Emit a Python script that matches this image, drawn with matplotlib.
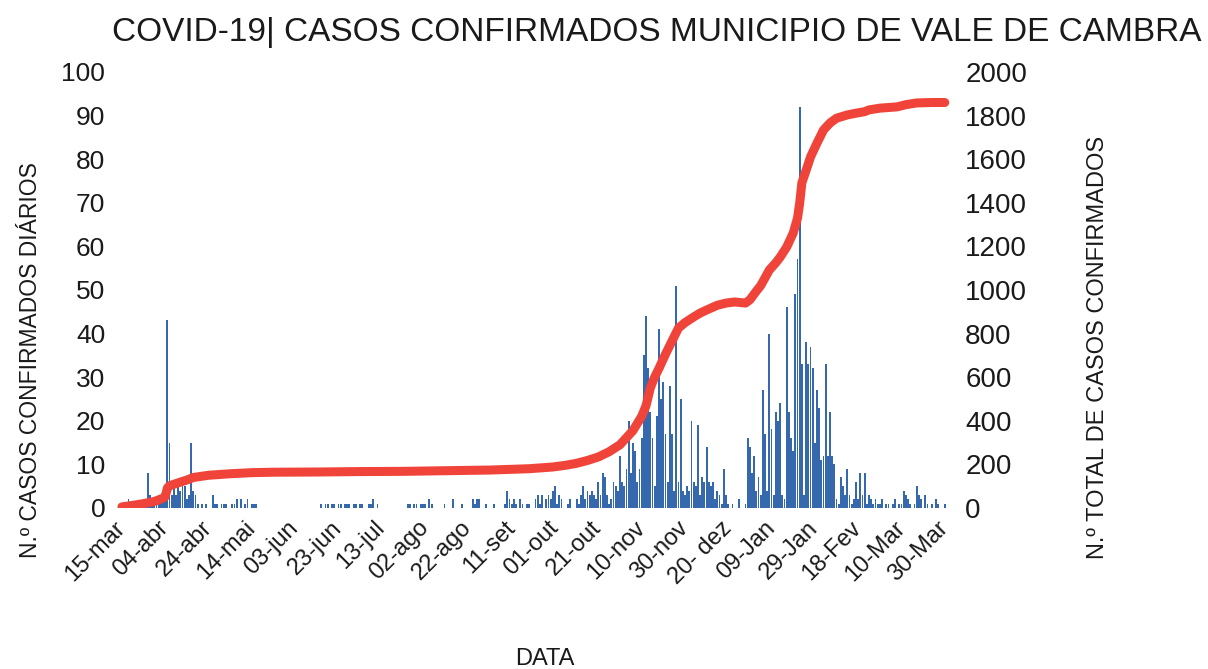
import numpy as np
import matplotlib
matplotlib.use('Agg')
import matplotlib.pyplot as plt

plt.rcParams['font.family'] = ['Liberation Sans', 'DejaVu Sans']

# casos diarios, 15-mar-2020 a 30-mar-2021 (um valor por dia)
casos_diarios = [
    1, 0, 1, 2, 0, 1, 1, 0, 1, 1,
    2, 1, 8, 3, 1, 1, 2, 1, 2, 3,
    4, 43, 15, 3, 5, 3, 5, 4, 6, 5,
    2, 3, 15, 4, 3, 1, 0, 1, 0, 1,
    0, 0, 3, 1, 1, 0, 1, 1, 1, 0,
    0, 1, 1, 2, 0, 2, 0, 1, 2, 0,
    1, 1, 1, 0, 0, 0, 0, 0, 0, 0,
    0, 0, 0, 0, 0, 0, 0, 0, 0, 0,
    0, 0, 0, 0, 0, 0, 0, 0, 0, 0,
    0, 0, 1, 0, 1, 1, 0, 1, 1, 0,
    1, 1, 0, 1, 1, 1, 0, 1, 1, 0,
    1, 1, 0, 0, 1, 1, 2, 0, 1, 0,
    0, 0, 0, 0, 0, 0, 0, 0, 0, 0,
    0, 0, 1, 1, 0, 1, 1, 0, 1, 1,
    1, 0, 2, 1, 0, 0, 0, 0, 0, 1,
    0, 0, 0, 2, 0, 0, 0, 1, 0, 0,
    0, 0, 2, 1, 2, 2, 0, 0, 1, 0,
    0, 0, 1, 0, 0, 0, 0, 1, 4, 2,
    1, 2, 1, 0, 2, 1, 0, 1, 1, 0,
    0, 2, 3, 1, 3, 0, 2, 3, 2, 4,
    5, 1, 3, 2, 0, 0, 1, 2, 0, 0,
    2, 1, 3, 5, 2, 4, 3, 4, 3, 2,
    6, 3, 8, 7, 3, 1, 2, 6, 5, 4,
    12, 6, 5, 9, 20, 8, 15, 13, 6, 9,
    16, 35, 44, 32, 22, 16, 5, 21, 41, 25,
    29, 17, 6, 28, 17, 4, 51, 6, 25, 4,
    3, 5, 4, 20, 6, 5, 19, 3, 7, 6,
    14, 6, 5, 6, 2, 4, 3, 1, 9, 3,
    1, 0, 1, 0, 0, 2, 0, 0, 1, 16,
    14, 8, 12, 4, 7, 3, 27, 17, 4, 40,
    18, 3, 22, 20, 24, 3, 2, 46, 22, 16,
    13, 49, 57, 92, 33, 3, 38, 33, 37, 32,
    15, 27, 23, 11, 12, 33, 12, 22, 12, 10,
    2, 1, 7, 5, 3, 9, 3, 1, 2, 6,
    2, 8, 3, 8, 1, 3, 2, 1, 2, 1,
    1, 2, 0, 1, 1, 0, 1, 2, 0, 1,
    1, 4, 3, 2, 1, 0, 1, 5, 3, 2,
    0, 3, 1, 0, 1, 0, 2, 1, 0, 0,
    1,
]

cum_dias = [0, 5, 10, 15, 19, 20, 21, 22, 25, 28, 30, 33, 40, 50, 60, 70, 90,
            110, 130, 150, 170, 188, 199, 205, 210, 215, 220, 225, 230, 236,
            240, 242, 244, 246, 248, 251, 254, 257, 260, 264, 267, 270, 275,
            279, 283, 288, 290, 293, 295, 299, 302, 304, 307, 310, 312, 313,
            314, 316, 318, 321, 324, 327, 330, 335, 339, 343, 345, 350, 358,
            362, 367, 374, 380]
cum_total = [5, 12, 20, 30, 45, 52, 92, 102, 112, 122, 128, 140, 150, 157, 162,
             164, 165, 167, 168, 171, 174, 180, 188, 196, 205, 218, 234, 258,
             290, 355, 420, 468, 550, 600, 640, 705, 765, 825, 850, 876, 894,
             908, 930, 940, 945, 940, 955, 995, 1020, 1092, 1125, 1151, 1197,
             1261, 1330, 1399, 1491, 1550, 1610, 1674, 1734, 1766, 1788, 1803,
             1811, 1818, 1826, 1834, 1840, 1850, 1858, 1860, 1860]

tick_dias = list(range(0, 381, 20))
tick_labels = ['15-mar', '04-abr', '24-abr', '14-mai', '03-jun', '23-jun',
               '13-jul', '02-ago', '22-ago', '11-set', '01-out', '21-out',
               '10-nov', '30-nov', '20- dez', '09-Jan', '29-Jan', '18-Fev',
               '10-Mar', '30-Mar']

txt = '#1a1a1a'

fig = plt.figure(figsize=(12.08, 6.69), dpi=100)
ax1 = fig.add_axes([0.0952, 0.2407, 0.6912, 0.6517])
ax2 = ax1.twinx()

dias = np.arange(len(casos_diarios))
ax1.bar(dias, casos_diarios, width=0.85, color='#3568ad', linewidth=0)
ax2.plot(cum_dias, cum_total, color='#f0443a', lw=6.5, solid_capstyle='round')

ax1.set_xlim(-3.2, 382.4)
ax1.set_ylim(0, 100)
ax2.set_ylim(0, 2000)
ax1.set_yticks(range(0, 101, 10))
ax2.set_yticks(range(0, 2001, 200))
ax1.set_xticks(tick_dias)
ax1.set_xticklabels(tick_labels, rotation=45, ha='right', va='center',
                    rotation_mode='anchor')

for ax in (ax1, ax2):
    for s in ax.spines.values():
        s.set_visible(False)
ax1.tick_params(axis='y', length=0, pad=7, labelsize=19, labelcolor=txt)
ax2.tick_params(axis='y', length=0, pad=11, labelsize=20, labelcolor=txt)
ax1.tick_params(axis='x', length=0, pad=12, labelsize=17, labelcolor=txt)

fig.text(0.544, 0.952, 'COVID-19| CASOS CONFIRMADOS MUNICIPIO DE VALE DE CAMBRA',
         ha='center', va='center', fontsize=24, color=txt)
fig.text(0.025, 1 - 360 / 669, 'N.º CASOS CONFIRMADOS DIÁRIOS', rotation=90,
         ha='center', va='center', fontsize=16.5, color=txt)
fig.text(1098 / 1208, 1 - 347 / 669, 'N.º TOTAL DE CASOS CONFIRMADOS', rotation=90,
         ha='center', va='center', fontsize=17, color=txt)
fig.text(545 / 1208, 1 - 659 / 669, 'DATA', ha='center', va='center',
         fontsize=17, color=txt)

fig.savefig('out.png', dpi=100)
